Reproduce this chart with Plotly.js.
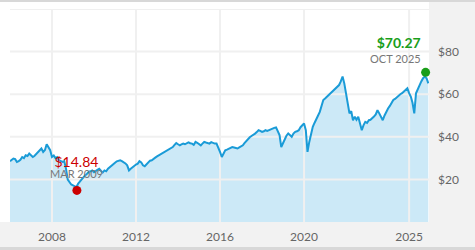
<!DOCTYPE html>
<html>
<head>
<meta charset="utf-8">
<script src="https://cdn.plot.ly/plotly-3.0.1.min.js"></script>
<style>html,body{margin:0;padding:0;background:#fff;}#chart{width:475px;height:250px;}</style>
</head>
<body>
<div id="chart"></div>
<script>
// ---- data (monthly closes) ----
const startYear = 2006;
const prices = [
  // 2006
  28.5, 29.0, 29.8, 29.5, 28.2, 28.6, 29.2, 30.5, 30.0, 31.3, 31.0, 32.1,
  // 2007
  31.5, 30.5, 31.0, 32.0, 32.9, 33.5, 34.5, 32.9, 33.8, 36.5, 35.0, 33.7,
  // 2008
  30.5, 31.2, 30.0, 30.5, 29.0, 28.5, 28.2, 28.6, 25.0, 19.9, 18.7, 17.6,
  // 2009
  17.2, 16.8, 16.4, 18.0, 19.0, 20.3, 21.0, 22.0, 22.7, 23.5, 23.8, 24.2,
  // 2010
  23.4, 23.8, 24.5, 25.0, 24.0, 23.2, 24.2, 23.8, 25.0, 25.8, 26.5, 27.4,
  // 2011
  27.8, 28.5, 28.8, 29.0, 28.6, 28.2, 27.5, 26.6, 24.2, 25.0, 25.8, 26.5,
  // 2012
  27.0, 27.4, 28.6, 28.0, 26.6, 26.2, 27.0, 28.2, 28.8, 29.0, 29.8, 30.2,
  // 2013
  30.8, 31.3, 31.8, 32.4, 32.9, 33.5, 34.0, 34.4, 34.8, 35.2, 36.2, 37.1,
  // 2014
  36.5, 36.0, 36.4, 36.8, 36.5, 37.1, 37.4, 37.0, 36.8, 36.2, 37.6, 37.2,
  // 2015
  36.5, 36.0, 36.8, 37.6, 37.3, 37.0, 36.8, 37.5, 37.1, 36.8, 36.8, 35.2,
  // 2016
  32.9, 30.5, 32.0, 33.7, 34.0, 34.5, 34.8, 35.2, 35.0, 34.8, 34.5, 35.0,
  // 2017
  35.5, 36.0, 37.0, 38.0, 39.2, 39.8, 40.4, 40.8, 41.5, 42.2, 43.1, 42.8,
  // 2018
  42.3, 42.6, 43.1, 42.8, 43.2, 43.5, 43.9, 44.2, 44.4, 42.5, 40.8, 35.2,
  // 2019
  37.0, 39.2, 40.5, 41.6, 40.8, 40.0, 41.5, 42.3, 42.6, 43.1, 44.5, 45.5,
  // 2020
  46.3, 43.1, 32.9, 37.6, 41.0, 44.7, 46.5, 48.6, 50.0, 51.7, 54.5, 57.3,
  // 2021
  58.0, 58.8, 59.6, 60.5, 61.2, 62.0, 62.8, 63.5, 64.3, 66.0, 68.3, 65.1,
  // 2022
  59.6, 54.9, 51.0, 52.0, 47.8, 49.4, 48.0, 49.4, 46.0, 43.1, 45.5, 47.0,
  // 2023
  46.5, 47.8, 48.0, 48.6, 49.5, 50.5, 52.5, 51.0, 49.5, 47.8, 50.0, 52.0,
  // 2024
  53.3, 54.5, 55.8, 57.3, 57.8, 58.5, 59.6, 60.0, 60.5, 61.2, 61.8, 62.8,
  // 2025
  60.5, 58.8, 56.0, 51.0, 60.4, 62.5, 64.3, 66.0, 67.5, 68.3, 67.5, 65.1
];
const dates = prices.map((_, i) => {
  const y = startYear + Math.floor(i / 12);
  const m = (i % 12) + 1;
  return y + '-' + String(m).padStart(2, '0') + '-01';
});

const lowDate = '2009-03-09', lowValue = 14.84, lowLabel = 'MAR 2009';
const lastDate = '2025-10-15', lastValue = 70.27, lastLabel = 'OCT 2025';

const xRange = ['2006-01-01', '2025-12-13'];
const yRange = [0, 100];
const xTickVals = ['2008-01-01', '2012-01-01', '2016-01-01', '2020-01-01', '2025-01-01'];
const xTickText = ['2008', '2012', '2016', '2020', '2025'];
const yTickVals = [20, 40, 60, 80];
const yTickText = ['$20', '$40', '$60', '$80'];
const yGridVals = [20, 40, 60, 80, 100];

// ---- grid drawn as traces so it sits over the fill ----
const gvx = [], gvy = [];
xTickVals.forEach(d => { gvx.push(d, d, null); gvy.push(yRange[0], yRange[1], null); });
const ghx = [], ghy = [];
yGridVals.forEach(v => { ghx.push(xRange[0], xRange[1], null); ghy.push(v, v, null); });

const gridColor = '#f0f0f0';
const traces = [
  { x: dates, y: prices, type: 'scatter', mode: 'lines', fill: 'tozeroy',
    fillcolor: '#cce9f7', line: { width: 0, color: 'rgba(0,0,0,0)' }, hoverinfo: 'skip' },
  { x: gvx, y: gvy, type: 'scatter', mode: 'lines', line: { color: gridColor, width: 2 }, hoverinfo: 'skip', connectgaps: false },
  { x: ghx, y: ghy, type: 'scatter', mode: 'lines', line: { color: gridColor, width: 2 }, hoverinfo: 'skip', connectgaps: false },
  { x: dates, y: prices, type: 'scatter', mode: 'lines',
    line: { color: '#1a9bd7', width: 2 }, hoverinfo: 'skip' },
  { x: [lowDate], y: [lowValue], type: 'scatter', mode: 'markers',
    marker: { color: '#cc0000', size: 9 }, cliponaxis: false },
  { x: [lastDate], y: [lastValue], type: 'scatter', mode: 'markers',
    marker: { color: '#1a9e1a', size: 9 }, cliponaxis: false }
];

const W = 475, H = 250, L = 10, R = 46, T = 9, B = 28;
const pw = W - L - R, ph = H - T - B;
const px = v => v / pw, py = v => v / ph;

const layout = {
  width: W, height: H,
  margin: { l: L, r: R, t: T, b: B, pad: 0 },
  paper_bgcolor: '#f2f2f2',
  plot_bgcolor: '#ffffff',
  showlegend: false,
  font: { family: 'Lato, "Open Sans", sans-serif', color: '#666' },
  xaxis: {
    type: 'date', range: xRange, tickmode: 'array', tickvals: xTickVals, ticktext: xTickText,
    showgrid: false, zeroline: false, showline: false, ticks: '',
    tickfont: { size: 12, color: '#666' }, ticklabelstandoff: 6, fixedrange: true
  },
  yaxis: {
    range: yRange, side: 'right', tickmode: 'array', tickvals: yTickVals, ticktext: yTickText,
    showgrid: false, zeroline: false, showline: false, ticks: '',
    tickfont: { size: 12, color: '#666' }, ticklabelstandoff: 8, fixedrange: true
  },
  shapes: [
    { type: 'rect', xref: 'paper', yref: 'paper', x0: -px(L), x1: 1, y0: 0, y1: 1 + py(T - 2),
      fillcolor: '#ffffff', line: { width: 0 }, layer: 'below' },
    { type: 'rect', xref: 'paper', yref: 'paper', x0: -px(L), x1: 1 + px(R), y0: 1 + py(T - 2), y1: 1 + py(T),
      fillcolor: '#d8d8d8', line: { width: 0 }, layer: 'below' },
    { type: 'rect', xref: 'paper', yref: 'paper', x0: -px(L), x1: 1 + px(R), y0: -py(B), y1: -py(B - 3),
      fillcolor: '#d8d8d8', line: { width: 0 }, layer: 'below' }
  ],
  annotations: [
    { x: lowDate, y: lowValue, xref: 'x', yref: 'y', showarrow: false,
      text: '<span style="font-size:14px;color:#cc0000">$' + lowValue.toFixed(2) + '</span><br>' +
            '<span style="font-size:11px;color:#777">' + lowLabel + '</span>',
      align: 'center', xanchor: 'center', yanchor: 'middle', yshift: 24,
      font: { size: 8.2, color: '#777' } },
    { x: lastDate, y: lastValue, xref: 'x', yref: 'y', showarrow: false,
      text: '<span style="font-size:14px;color:#1a9e1a"><b>$' + lastValue.toFixed(2) + '</b></span><br>' +
            '<span style="font-size:11px;color:#777">' + lastLabel + '</span>',
      align: 'right', xanchor: 'right', yanchor: 'middle', xshift: -3, yshift: 22.5,
      font: { size: 11.5, color: '#777' } }
  ]
};

Plotly.newPlot('chart', traces, layout, { displayModeBar: false, staticPlot: true });
</script>
</body>
</html>
